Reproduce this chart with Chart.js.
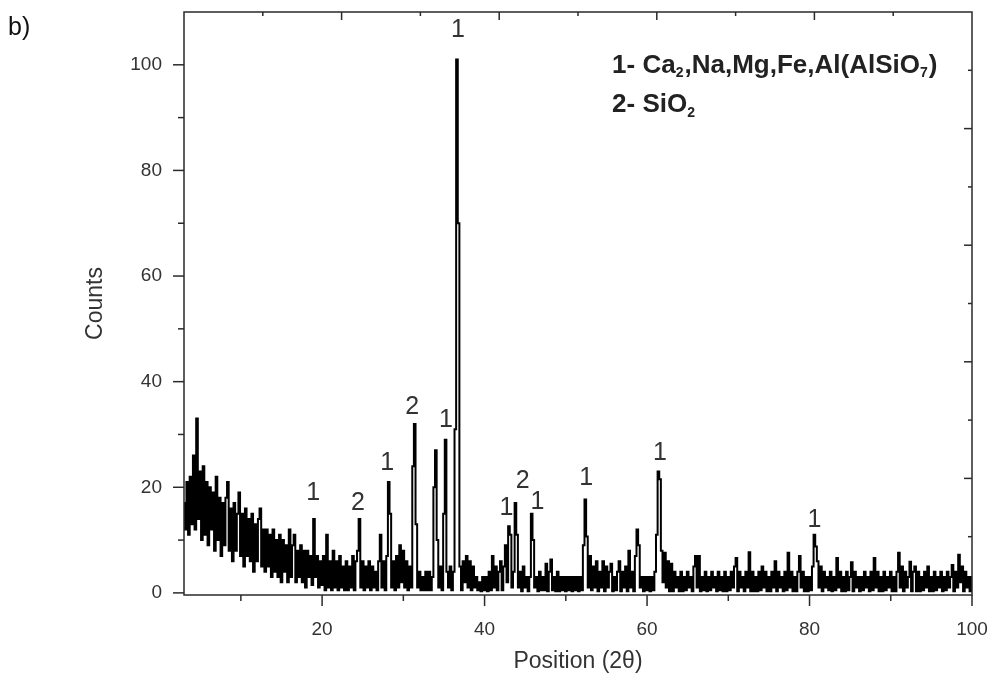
<!DOCTYPE html>
<html lang="en">
<head>
<meta charset="UTF-8">
<title>XRD pattern b)</title>
<script src="https://cdn.jsdelivr.net/npm/chart.js"></script>
<style>
  html, body { margin: 0; padding: 0; background: #fff; }
  #wrap { position: relative; width: 992px; height: 681px; }
</style>
</head>
<body>
<div id="wrap"><canvas id="xrd"></canvas></div>
<script>
// scan settings (2θ)
const scanStart = 3.0;
const scanStep = 0.2;

// counts, 10 degrees per block
const counts03 = [17,12,21,11,22,13,26,12,33,14, 23,10,24,11,21,9,20,12,19,8, 22,10,18,7,17,9,18,21,8,16, 6,17,8,15,19,7,15,5,16,7, 14,6,15,4,13,6,14,16,5,12];
const counts13 = [4,12,5,11,3,12,4,10,3,11, 2,10,4,9,2,12,3,9,11,2, 8,3,9,2,8,1,8,3,7,1.5, 14,3,7,1,6,1.5,7,0.5,11,1, 6,0.5,8,1,6,0.5,7,1,5,0.5];
const counts23 = [6,0.5,5,1,7,0.5,6,8,14,1, 6,0.5,5,1,6,0.5,5,1,4,0.5, 6,11,1,6,0.5,7,21,15,1,6, 0.5,7,1,9,2,8,1,6,0.5,5, 1,24,32,13,1,4,0.5,3,0.5,4];
const counts33 = [0.5,4,0.5,3,20,27,10,1,5,0.5, 15,29,4,1,5,0.5,4,31,101,70, 5,0.5,6,2,7,1,6,0.5,5,1, 3,0.5,2,0.3,3,0.5,3,0.3,4,0.5, 7,1,5,0.5,4,6,0.5,5,9,2];
const counts43 = [12.6,11,1,4,17,11,1,4,0.3,5, 1,3,0.3,3,15,10,1,3,0.3,4, 0.5,3,0.5,5.5,0.3,4,6.3,0.5,3,0.3, 4,0.3,3,0.5,3,0.3,3,0.5,3,0.3, 3,0.5,3,0.3,3,0.5,9,17.7,10.7,1];
const counts53 = [7,0.5,5,1,6,0.3,4,1,6,0.3, 5,1,4,5.5,0.3,3,0.5,4,6,0.3, 4,1,5,0.3,8,1,4,0.3,7,12, 9,1,3,0.3,3,0.5,3,0.3,3,0.5, 4,11,23,21.5,8,2,7.6,1,6,0.3];
const counts63 = [5.5,0.3,4,1,3,0.3,4,0.3,3,0.5, 4,1,3,0.3,5,7,1,7,0.3,3, 0.5,4,0.3,3,0.5,4,1,3,0.3,4, 0.5,3,0.3,4,0.3,3,0.5,4,1,5, 6.6,0.3,4,1,3,0.3,4,1,7.7,0.3];
const counts73 = [4,0.3,3,0.3,4,0.5,5,1,4,0.3, 3,0.3,4,1,6,0.3,4,1,3,0.3, 4,0.5,7.6,1,4,0.3,3,0.3,4,7, 1,4,0.3,3,0.3,3,0.5,5,11,8.8, 6,1,5,0.3,4,1,3,0.5,4,0.3];
const counts83 = [3,0.5,6.6,1,4,0.3,3,0.3,4,0.5, 3,5.8,0.3,4,1,3,0.3,3,0.5,4, 1,3,0.3,4,0.5,6.6,1,4,0.3,3, 0.3,4,0.5,3,1,4,0.3,3,0.3,4, 7.6,1,5,0.3,4,1,3,5.9,0.3,4];
const counts93 = [5,0.3,4,0.3,3,0.5,4,1,5,0.3, 3,0.3,4,0.5,3,1,4,0.3,3,0.5, 4,1,3,5.3,0.3,4,1,7.2,2,5, 0.3,4,1,3,0.3,3];

// axis ticks
const xMajorTicks = [20, 40, 60, 80, 100];
const xMinorTicks = [10, 30, 50, 70, 90];
const yMajorTicks = [0, 20, 40, 60, 80, 100];
const yMinorTicks = [10, 30, 50, 70, 90];
const frameDivisions = [1, 2, 3, 4, 5, 6, 7, 8, 9]; // top / right mirror axes (0-10)

// phase labels over the peaks
const peakLabelX = [18.9, 24.4, 28.0, 31.1, 35.25, 36.73, 42.7, 44.7, 46.5, 52.5, 61.6, 80.6];
const peakLabelY = [18.9, 17.0, 24.6, 35.2, 32.8, 106.6, 16.0, 21.1, 17.1, 21.7, 26.4, 13.8];
const peakLabelText = ['1', '2', '1', '2', '1', '1', '1', '2', '1', '1', '1', '1'];

// phase key: [text, isSubscript]
const keyLine1 = [['1- Ca', false], ['2', true], [',Na,Mg,Fe,Al(AlSiO', false], ['7', true], [')', false]];
const keyLine2 = [['2- SiO', false], ['2', true]];

const FONT = '"Liberation Sans", Arial, sans-serif';

const counts = [].concat(counts03, counts13, counts23, counts33, counts43,
                         counts53, counts63, counts73, counts83, counts93);
const points = counts.map((c, i) => ({ x: +(scanStart + i * scanStep).toFixed(1), y: c }));

// keep the plot box where the layout padding puts it
const noEdgePadding = s => {
    s.paddingLeft = 0; s.paddingRight = 0; s.paddingTop = 0; s.paddingBottom = 0;
};

const framePlugin = {
    id: 'frame',
    afterDraw(chart) {
        const { ctx, chartArea: a, scales } = chart;
        const { x, y, x2, y2 } = scales;
        ctx.save();

        // axes box
        ctx.strokeStyle = '#2a2a2a';
        ctx.lineWidth = 1.5;
        ctx.strokeRect(a.left, a.top, a.right - a.left, a.bottom - a.top);

        const line = (x1, y1, x2_, y2_) => {
            ctx.beginPath(); ctx.moveTo(x1, y1); ctx.lineTo(x2_, y2_); ctx.stroke();
        };
        // bottom / left ticks point out
        xMajorTicks.forEach(v => { const p = x.getPixelForValue(v); line(p, a.bottom, p, a.bottom + 11); });
        xMinorTicks.forEach(v => { const p = x.getPixelForValue(v); line(p, a.bottom, p, a.bottom + 6); });
        yMajorTicks.forEach(v => { const p = y.getPixelForValue(v); line(a.left, p, a.left - 11, p); });
        yMinorTicks.forEach(v => { const p = y.getPixelForValue(v); line(a.left, p, a.left - 6, p); });
        // top / right ticks point in
        frameDivisions.forEach(k => {
            const len = k % 2 === 0 ? 8 : 4;
            const px = x2.getPixelForValue(k);
            line(px, a.top, px, a.top + len);
            const py = y2.getPixelForValue(k);
            line(a.right, py, a.right - len, py);
        });

        // peak labels
        ctx.fillStyle = '#333';
        ctx.font = '25px ' + FONT;
        ctx.textAlign = 'center';
        ctx.textBaseline = 'middle';
        peakLabelText.forEach((t, i) => {
            ctx.fillText(t, x.getPixelForValue(peakLabelX[i]), y.getPixelForValue(peakLabelY[i]));
        });

        // phase key
        const drawKey = (parts, px, py) => {
            ctx.textAlign = 'left';
            ctx.textBaseline = 'middle';
            parts.forEach(([t, sub]) => {
                ctx.font = sub ? 'bold 14px ' + FONT : 'bold 26px ' + FONT;
                ctx.fillText(t, px, sub ? py + 8 : py);
                px += ctx.measureText(t).width + (sub ? 1 : 0);
            });
        };
        ctx.fillStyle = '#222';
        drawKey(keyLine1, x.getPixelForValue(55.7), y.getPixelForValue(99.9));
        drawKey(keyLine2, x.getPixelForValue(55.7), y.getPixelForValue(92.4));

        // panel letter
        ctx.fillStyle = '#111';
        ctx.font = '25px ' + FONT;
        ctx.textAlign = 'left';
        ctx.fillText('b)', 8, 28);
        ctx.restore();
    }
};

new Chart(document.getElementById('xrd'), {
    type: 'line',
    data: {
        datasets: [{
            data: points,
            borderColor: '#000',
            borderWidth: 2,
            pointRadius: 0,
            stepped: 'middle',
            fill: false
        }]
    },
    options: {
        responsive: true,
        maintainAspectRatio: false,
        animation: false,
        layout: { padding: { left: 0, right: 20, top: 12, bottom: 0 } },
        plugins: { legend: { display: false }, tooltip: { enabled: false } },
        scales: {
            x: {
                type: 'linear', position: 'bottom', min: 3, max: 100,
                afterBuildTicks: s => { s.ticks = xMajorTicks.map(v => ({ value: v })); },
                afterFit: s => { s.height = 86; noEdgePadding(s); },
                grid: { display: false, drawTicks: false },
                border: { display: false },
                ticks: { padding: 23, color: '#333', font: { family: FONT, size: 19 }, maxRotation: 0, autoSkip: false },
                title: { display: true, text: 'Position (2θ)', color: '#333', font: { family: FONT, size: 23 }, padding: { top: 0, bottom: 6 } }
            },
            y: {
                type: 'linear', position: 'left', min: -0.4, max: 110,
                afterBuildTicks: s => { s.ticks = yMajorTicks.map(v => ({ value: v })); },
                afterFit: s => { s.width = 184; noEdgePadding(s); },
                grid: { display: false, drawTicks: false },
                border: { display: false },
                ticks: { padding: 22, color: '#333', font: { family: FONT, size: 19 } },
                title: { display: true, text: 'Counts', color: '#333', font: { family: FONT, size: 23 }, padding: { top: 82, bottom: 0 } }
            },
            x2: { type: 'linear', position: 'top', min: 0, max: 10, display: false, afterFit: noEdgePadding },
            y2: { type: 'linear', position: 'right', min: 0, max: 10, display: false, afterFit: noEdgePadding }
        }
    },
    plugins: [framePlugin]
});
</script>
</body>
</html>
